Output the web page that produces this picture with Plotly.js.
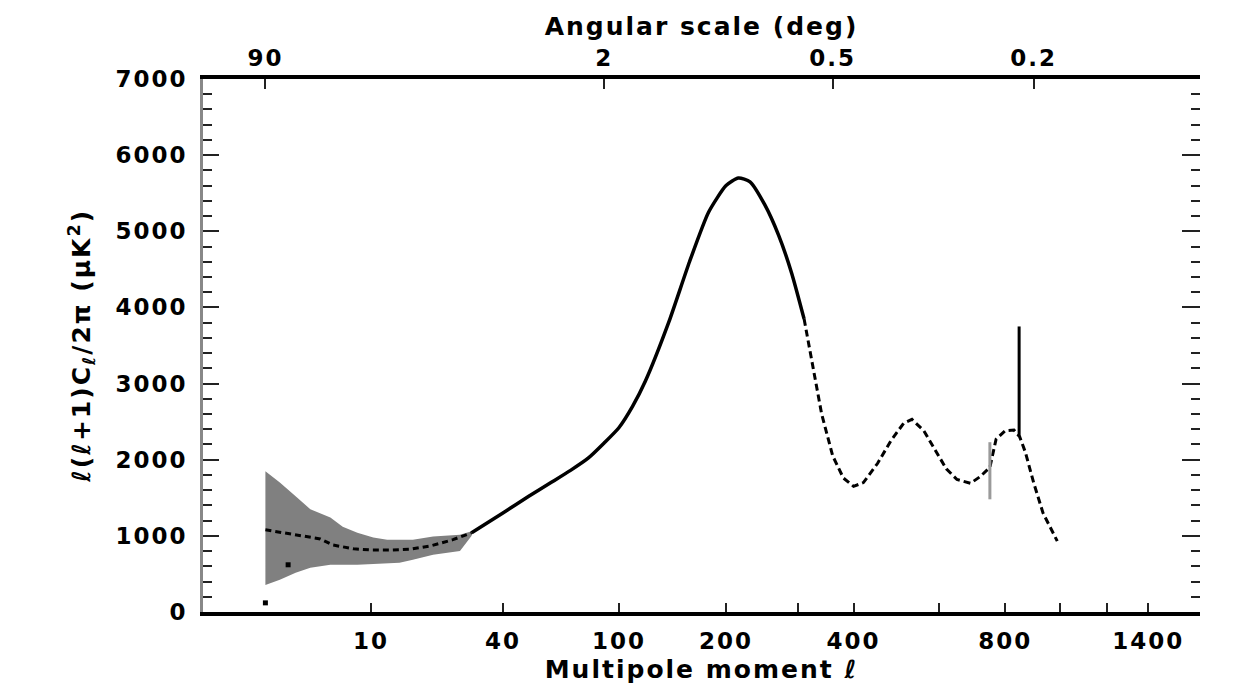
<!DOCTYPE html>
<html>
<head>
<meta charset="utf-8">
<script src="https://cdn.plot.ly/plotly-3.0.1.min.js"></script>
<style>
  html, body { margin: 0; padding: 0; background: #ffffff; }
  #chart { width: 1240px; height: 694px; }
  #chart .xtick text, #chart .ytick text, #chart .x2tick text { letter-spacing: 2px; }
  #chart .g-xtitle text, #chart .g-x2title text, #chart .g-ytitle text { letter-spacing: 2px; }
</style>
</head>
<body>
<div id="chart"></div>
<script>
// ---------------- data ----------------
// low-multipole part of the spectrum (dotted, on the grey band)
const ellLow = [2, 3, 4, 5, 6, 8, 10, 13, 16, 20, 25, 30];
const dLow   = [1080, 1030, 1000, 960, 880, 830, 815, 815, 825, 870, 950, 1040];

// first acoustic peak (solid)
const ellMid = [30, 40, 50, 60, 70, 80, 90, 100, 110, 120, 140, 160, 180, 200, 215, 230, 250, 270, 290, 310];
const dMid   = [1040, 1300, 1520, 1700, 1860, 2020, 2220, 2420, 2700, 3030, 3800, 4600, 5250, 5600, 5700, 5650, 5350, 4950, 4450, 3850];

// higher peaks (dashed)
const ellHigh = [310, 330, 340, 360, 380, 400, 420, 450, 480, 510, 530, 560, 590, 620, 650, 690, 720, 750, 770, 800, 830, 850, 870, 900, 935, 990];
const dHigh   = [3850, 3000, 2600, 2050, 1760, 1650, 1700, 1950, 2250, 2480, 2530, 2380, 2130, 1880, 1740, 1690, 1780, 1900, 2270, 2380, 2390, 2300, 2100, 1700, 1300, 930];

// cosmic-variance band
const bandEll   = [2, 2.6, 3.4, 4.3, 5.8, 6.9, 8.4, 10.3, 12.2, 14.1, 16.4, 20.4, 26.8, 30];
const bandUpper = [1850, 1700, 1520, 1350, 1240, 1120, 1040, 980, 950, 950, 950, 990, 1016, 1060];
const bandLower = [356, 422, 515, 580, 620, 620, 620, 630, 640, 647, 686, 752, 800, 1000];

// individual low-ell points
const pointEll = [2, 3];
const pointD   = [120, 620];

// error bars at high ell
const barEll   = [750, 848];
const barLow   = [1480, 2310];
const barHigh  = [2230, 3750];
const barColor = ['#9a9a9a', '#000000'];

// axis ticks
const bottomTicks      = [10, 40, 100, 200, 400, 800, 1400];
const bottomTickLabels = ['10', '40', '100', '200', '400', '800', '1400'];
const bottomMinor      = [300, 600, 1000, 1200];
const topDeg           = [90, 2, 0.5, 0.2];
const topTickLabels    = ['90', '2', '0.5', '0.2'];

// ---------------- scale: axis is linear in ell^(1/4) ----------------
const tx = l => Math.pow(l, 0.25);
const ellMin = 0.5, ellMax = 1684;
const xr = [tx(ellMin), tx(ellMax)];

const tickFont  = {family: 'DejaVu Sans', size: 23, color: '#000', weight: 'bold'};
const titleFont = {family: 'DejaVu Sans', size: 25, color: '#000', weight: 'bold'};

const traces = [];

// band (lower edge, then upper filled to it)
traces.push({
  x: bandEll.map(tx), y: bandLower, mode: 'lines', type: 'scatter',
  line: {width: 0, color: '#808080'}, hoverinfo: 'skip', showlegend: false
});
traces.push({
  x: bandEll.map(tx), y: bandUpper, mode: 'lines', type: 'scatter',
  fill: 'tonexty', fillcolor: '#808080',
  line: {width: 0, color: '#808080'}, hoverinfo: 'skip', showlegend: false
});

// spectrum
traces.push({
  x: ellLow.map(tx), y: dLow, mode: 'lines', type: 'scatter',
  line: {color: '#000', width: 3, dash: '6px,4px'}, showlegend: false
});
traces.push({
  x: ellMid.map(tx), y: dMid, mode: 'lines', type: 'scatter',
  line: {color: '#000', width: 3.5, shape: 'spline', smoothing: 0.6}, showlegend: false
});
traces.push({
  x: ellHigh.map(tx), y: dHigh, mode: 'lines', type: 'scatter',
  line: {color: '#000', width: 3, dash: '7px,4px'}, showlegend: false
});

// points
traces.push({
  x: pointEll.map(tx), y: pointD, mode: 'markers', type: 'scatter',
  marker: {symbol: 'square', size: 5, color: '#000'}, showlegend: false
});

// error bars
barEll.forEach((l, i) => {
  traces.push({
    x: [tx(l), tx(l)], y: [barLow[i], barHigh[i]], mode: 'lines', type: 'scatter',
    line: {color: barColor[i], width: 3}, showlegend: false
  });
});

// empty trace to create the top/right axes
traces.push({x: [], y: [], xaxis: 'x2', yaxis: 'y2', type: 'scatter', mode: 'lines', showlegend: false});

const layout = {
  width: 1240, height: 694,
  paper_bgcolor: '#ffffff', plot_bgcolor: '#ffffff',
  margin: {l: 203, r: 40, t: 79, b: 82, pad: 0},
  showlegend: false,
  xaxis: {
    range: xr, tickmode: 'array',
    tickvals: bottomTicks.map(tx), ticktext: bottomTickLabels,
    ticks: 'inside', ticklen: 9, tickwidth: 2, tickcolor: '#222',
    minor: {tickmode: 'array', tickvals: bottomMinor.map(tx), ticks: 'inside', ticklen: 9, tickwidth: 2, tickcolor: '#222', showgrid: false},
    showline: true, linecolor: '#000', linewidth: 4,
    showgrid: false, zeroline: false,
    tickfont: tickFont, ticklabelstandoff: 5,
    title: {text: 'Multipole moment ℓ', font: titleFont, standoff: 9}
  },
  xaxis2: {
    overlaying: 'x', side: 'top', anchor: 'y2',
    range: xr, tickmode: 'array',
    tickvals: topDeg.map(d => tx(180 / d)), ticktext: topTickLabels,
    ticks: 'inside', ticklen: 10, tickwidth: 2, tickcolor: '#222',
    showline: true, linecolor: '#000', linewidth: 4,
    showgrid: false, zeroline: false,
    tickfont: tickFont, ticklabelstandoff: 0,
    title: {text: 'Angular scale (deg)', font: titleFont, standoff: 3}
  },
  yaxis: {
    range: [0, 7000], tickmode: 'linear', tick0: 0, dtick: 1000,
    ticks: 'inside', ticklen: 16, tickwidth: 2, tickcolor: '#222',
    minor: {dtick: 200, ticks: 'inside', ticklen: 9, tickwidth: 2, tickcolor: '#222', showgrid: false},
    showline: true, linecolor: '#888', linewidth: 3,
    showgrid: false, zeroline: false,
    tickfont: tickFont, ticklabelstandoff: 8,
    title: {text: 'ℓ(ℓ+1)C<sub>ℓ</sub>/2π (μK<sup>2</sup>)', font: titleFont, standoff: 26}
  },
  yaxis2: {
    overlaying: 'y', side: 'right', anchor: 'x2',
    range: [0, 7000], tickmode: 'linear', tick0: 0, dtick: 1000,
    ticks: 'inside', ticklen: 18, tickwidth: 2, tickcolor: '#222',
    minor: {dtick: 200, ticks: 'inside', ticklen: 9, tickwidth: 2, tickcolor: '#222', showgrid: false},
    showline: false, showticklabels: false,
    showgrid: false, zeroline: false
  }
};

Plotly.newPlot('chart', traces, layout, {staticPlot: true, displayModeBar: false});
</script>
</body>
</html>
